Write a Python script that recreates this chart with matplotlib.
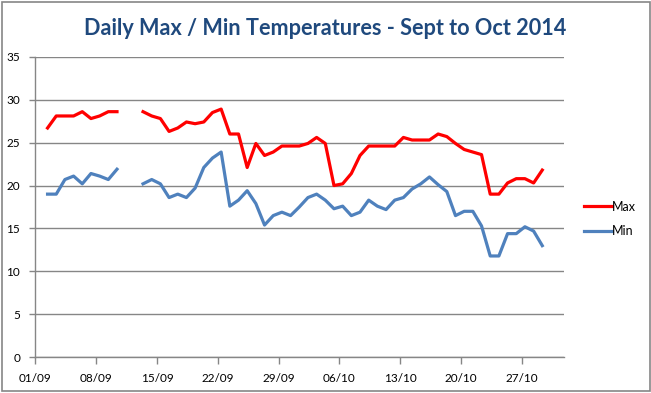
import numpy as np
import pandas as pd
import matplotlib
matplotlib.use('Agg')
import matplotlib.pyplot as plt
from matplotlib.patches import Rectangle

# Datas (02/09 a 29/10), sem leitura em 11/09 e 12/09
datas = pd.date_range('2014-09-02', '2014-10-29', freq='D')

temp_max = [26.7, 28.1, 28.1, 28.1, 28.6, 27.8, 28.1, 28.6, 28.6, np.nan,
            np.nan, 28.6, 28.1, 27.8, 26.3, 26.7, 27.4, 27.2, 27.4, 28.5,
            28.9, 26.0, 26.0, 22.1, 24.9, 23.5, 23.9, 24.6, 24.6, 24.6,
            24.9, 25.6, 24.9, 20.0, 20.2, 21.4, 23.5, 24.6, 24.6, 24.6,
            24.6, 25.6, 25.3, 25.3, 25.3, 26.0, 25.7, 24.9, 24.2, 23.9,
            23.6, 19.0, 19.0, 20.3, 20.8, 20.8, 20.3, 21.8]

temp_min = [19.0, 19.0, 20.7, 21.1, 20.2, 21.4, 21.1, 20.7, 21.9, np.nan,
            np.nan, 20.2, 20.7, 20.2, 18.6, 19.0, 18.6, 19.7, 22.1, 23.2,
            23.9, 17.6, 18.3, 19.4, 17.9, 15.4, 16.5, 16.9, 16.5, 17.5,
            18.6, 19.0, 18.3, 17.3, 17.6, 16.5, 16.9, 18.3, 17.6, 17.2,
            18.3, 18.6, 19.6, 20.2, 21.0, 20.1, 19.3, 16.5, 17.0, 17.0,
            15.3, 11.8, 11.8, 14.4, 14.4, 15.2, 14.7, 13.0]

rotulos_x = ['01/09', '08/09', '15/09', '22/09', '29/09', '06/10', '13/10', '20/10', '27/10']

cinza = '#868686'
fonte = 'Lato'

fig = plt.figure(figsize=(6.51, 3.93), dpi=100)
ax = fig.add_axes([0.0545, 0.0908, 0.8125, 0.7649])

ax.plot(datas, temp_max, color='#FF0000', lw=2.3, label='Max', solid_joinstyle='round')
ax.plot(datas, temp_min, color='#4F81BD', lw=2.3, label='Min', solid_joinstyle='round')

# Eixos no estilo do Excel
desloc = pd.Timedelta(hours=9.4)
inicio = pd.Timestamp('2014-09-01')
posicoes = [inicio + pd.Timedelta(days=7 * i) - desloc for i in range(len(rotulos_x))]
ax.set_xticks(posicoes)
ax.set_xticklabels(rotulos_x)
ax.set_xlim(inicio - desloc, inicio + pd.Timedelta(days=60.55))
ax.set_ylim(0, 35)
ax.set_yticks(range(0, 36, 5))
ax.yaxis.grid(True, color=cinza, lw=1)
ax.set_axisbelow(True)

for lado in ['top', 'right']:
    ax.spines[lado].set_visible(False)
for lado in ['left', 'bottom']:
    ax.spines[lado].set_color(cinza)
    ax.spines[lado].set_linewidth(1)

ax.tick_params(axis='y', length=4, width=1, color=cinza, pad=7, labelsize=8.5)
ax.tick_params(axis='x', length=5, width=1, color=cinza, pad=6, labelsize=8.5)
for rot in ax.get_xticklabels() + ax.get_yticklabels():
    rot.set_fontfamily(fonte)

leg = ax.legend(loc='center left', bbox_to_anchor=(1.015, 0.46), frameon=False,
                handlelength=2.3, handletextpad=0.0, labelspacing=1.0,
                prop={'family': fonte, 'size': 9})

fig.text(0.5, 0.9122, 'Daily Max / Min Temperatures - Sept to Oct 2014',
         ha='center', va='baseline', fontsize=15.6, fontweight='bold',
         color='#1F497D', family=fonte)

# Borda do gráfico
fig.patches.append(Rectangle((1.5 / 651, 2 / 393), 648 / 651, 389.5 / 393,
                             transform=fig.transFigure, fill=False,
                             edgecolor=cinza, lw=1.2))

fig.savefig('out.png', dpi=100)
